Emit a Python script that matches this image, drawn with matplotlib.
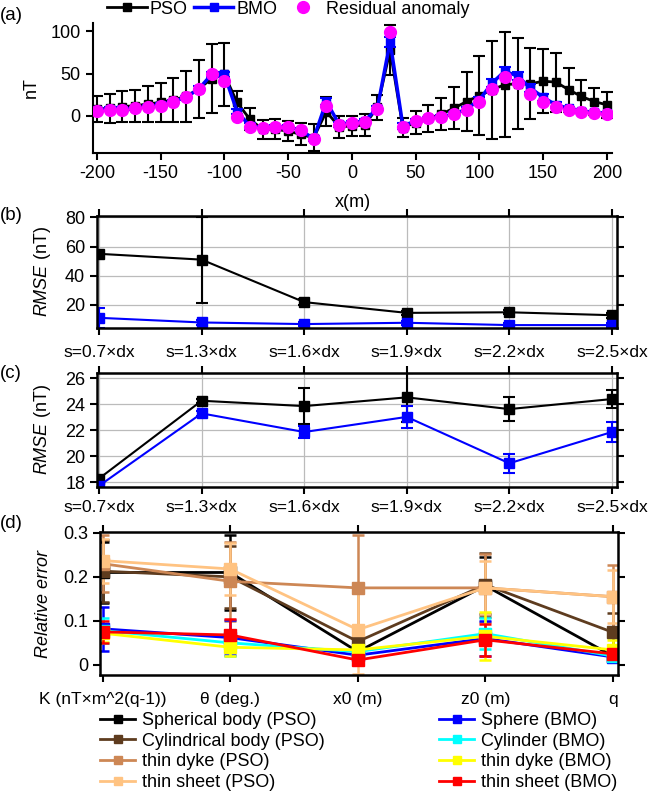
import matplotlib
matplotlib.use("Agg")
import matplotlib.pyplot as plt

plt.rcParams['font.family'] = ['Liberation Sans', 'DejaVu Sans']
plt.rcParams['font.size'] = 13
plt.rcParams['axes.unicode_minus'] = False
plt.rcParams['mathtext.fontset'] = 'custom'
plt.rcParams['mathtext.it'] = 'Liberation Sans:italic'
plt.rcParams['mathtext.rm'] = 'Liberation Sans'

# ---- panel (a): profile ----
x_m = [-200, -190, -180, -170, -160, -150, -140, -130, -120, -110, -100,
       -90, -80, -70, -60, -50, -40, -30, -20, -10, 0,
       10, 20, 30, 40, 50, 60, 70, 80, 90, 100,
       110, 120, 130, 140, 150, 160, 170, 180, 190, 200]
residual = [6, 7, 7, 9, 11, 12, 17, 22, 32, 49, 41,
            -1, -13, -14, -13, -13, -17, -28, 12, -11, -9,
            -7, 8, 99, -13, -6, -3, -1, 2, 7, 17,
            32, 46, 39, 26, 16, 10, 7, 5, 3, 2]
pso_a = [8, 9, 11, 12, 14, 16, 19, 23, 32, 44, 49,
         16, -4, -16, -16, -18, -22, -26, 5, -13, -12,
         -11, 10, 78, -14, -8, -3, 2, 9, 17, 24,
         31, 37, 38, 38, 41, 40, 31, 23, 17, 13]
pso_a_err = [15, 17, 18, 19, 21, 23, 26, 30, 34, 41, 37,
             14, 13, 11, 12, 12, 13, 16, 17, 13, 12,
             13, 15, 30, 11, 14, 16, 19, 25, 35, 47,
             58, 62, 54, 42, 38, 35, 26, 20, 16, 15]
bmo_a = [7, 8, 8, 9, 11, 13, 17, 22, 32, 49, 49,
         5, -12, -14, -13, -13, -17, -27, 17, -10, -8,
         -6, 9, 88, -12, -6, -3, -1, 2, 8, 19,
         39, 53, 47, 33, 22, 13, 9, 6, 4, 3]
bmo_a_err = [2, 2, 2, 2, 2, 2, 2, 2, 3, 3, 3,
             3, 3, 2, 2, 2, 2, 3, 4, 3, 2,
             2, 3, 6, 3, 2, 2, 2, 2, 2, 3,
             5, 5, 5, 5, 4, 3, 2, 2, 2, 2]

# ---- panels (b), (c): RMSE vs step ----
steps = ['s=0.7×dx', 's=1.3×dx', 's=1.6×dx', 's=1.9×dx', 's=2.2×dx', 's=2.5×dx']
pso_b = [55, 51, 21.8, 14.4, 14.8, 12.8]
pso_b_err = [1.5, 29.5, 2.2, 1.5, 1.5, 1.8]
bmo_b = [11, 7.8, 6.7, 7.6, 6.0, 6.0]
bmo_b_err = [6.8, 1.5, 1.2, 1.5, 1.2, 1.2]

pso_c = [18.3, 24.27, 23.86, 24.53, 23.63, 24.4]
pso_c_err = [0.15, 0.15, 1.4, 1.9, 0.9, 0.7]
bmo_c = [17.74, 23.3, 21.87, 23.03, 19.47, 21.87]
bmo_c_err = [0.1, 0.2, 0.45, 0.83, 0.75, 0.8]

# ---- panel (d): relative error of parameters ----
params = ['K (nT×m^2(q-1))', 'θ (deg.)', 'x0 (m)', 'z0 (m)', 'q']
sph_pso = [0.21, 0.21, 0.03, 0.18, 0.02]
sph_pso_err = [0.07, 0.085, 0.02, 0.065, 0.01]
cyl_pso = [0.213, 0.20, 0.053, 0.182, 0.074]
cyl_pso_err = [0.07, 0.07, 0.02, 0.073, 0.045]
dyke_pso = [0.23, 0.19, 0.175, 0.175, 0.155]
dyke_pso_err = [0.065, 0.09, 0.12, 0.078, 0.073]
sheet_pso = [0.237, 0.218, 0.08, 0.175, 0.155]
sheet_pso_err = [0.05, 0.06, 0.1, 0.06, 0.06]
sph_bmo = [0.082, 0.062, 0.022, 0.06, 0.018]
sph_bmo_err = [0.05, 0.04, 0.01, 0.04, 0.01]
cyl_bmo = [0.078, 0.05, 0.03, 0.071, 0.02]
cyl_bmo_err = [0.028, 0.03, 0.012, 0.035, 0.012]
dyke_bmo = [0.072, 0.04, 0.034, 0.065, 0.034]
dyke_bmo_err = [0.02, 0.02, 0.015, 0.055, 0.022]
sheet_bmo = [0.075, 0.068, 0.011, 0.057, 0.025]
sheet_bmo_err = [0.025, 0.037, 0.01, 0.037, 0.017]

W, H = 649, 806
fig = plt.figure(figsize=(W / 100, H / 100), dpi=100)


def box(l, t, r, b):
    return [l / W, 1 - b / H, (r - l) / W, (b - t) / H]


# (a)
ax = fig.add_axes(box(93, 23, 612, 153))
pso = ax.errorbar(x_m, pso_a, yerr=pso_a_err, color='black', lw=2, marker='s',
                  ms=6, ecolor='black', elinewidth=1.5, capsize=4, capthick=1.5, zorder=2)
bmo = ax.errorbar(x_m, bmo_a, yerr=bmo_a_err, color='#0000FF', lw=2.5, marker='s',
                  ms=6, ecolor='#0000FF', elinewidth=1.5, capsize=4, capthick=1.5, zorder=3)
res, = ax.plot(x_m, residual, 'o', color='#FF00FF', ms=8.5, ls='none', zorder=4)
ax.set_xlim(-203, 204)
ax.set_ylim(-44, 110)
ax.set_xticks([-200, -150, -100, -50, 0, 50, 100, 150, 200])
ax.set_yticks([0, 50, 100])
for s in ['top', 'right']:
    ax.spines[s].set_visible(False)
for s in ['left', 'bottom']:
    ax.spines[s].set_linewidth(1.5)
ax.tick_params(direction='out', length=5, width=1.5, pad=4)
ax.set_xlabel('x(m)', labelpad=8)
ax.set_ylabel('nT')
ax.yaxis.set_label_coords(-0.102, 0.5)
ax.legend([pso[0], bmo[0], res], ['PSO', 'BMO', 'Residual anomaly'], ncol=3,
          frameon=False, loc='center left', bbox_to_anchor=(107 / W, 1 - 9 / H),
          bbox_transform=fig.transFigure, handlelength=2.2, handletextpad=0.15,
          columnspacing=0.35, borderaxespad=0, borderpad=0)
fig.text(0, 1 - 16 / H, '(a)', va='center', ha='left', fontsize=13.5)


def framed(ax, pad):
    for s in ax.spines.values():
        s.set_linewidth(1.8)
    ax.tick_params(direction='out', length=5, width=1.5, top=True, right=True)
    ax.tick_params(axis='x', pad=pad, labelsize=12.5)


# (b)
ax = fig.add_axes(box(97, 216, 617, 328))
ax.grid(True, color='#BBBBBB', lw=0.9)
ax.set_axisbelow(True)
ax.errorbar(range(len(steps)), pso_b, yerr=pso_b_err, color='black', lw=1.5, marker='s',
            ms=7, elinewidth=1.5, capsize=4, capthick=1.5)
ax.errorbar(range(len(steps)), bmo_b, yerr=bmo_b_err, color='#0000FF', lw=1.5, marker='s',
            ms=7, elinewidth=1.5, capsize=4, capthick=1.5)
ax.set_xticks(range(len(steps)))
ax.set_xticklabels(steps)
ax.set_xlim(-0.02, 5.05)
ax.set_ylim(4, 81)
ax.set_yticks([20, 40, 60, 80])
framed(ax, 7)
ax.set_ylabel(r'$\mathit{RMSE}$ (nT)')
ax.yaxis.set_label_coords(-0.085, 0.5)
fig.text(0, 1 - 215 / H, '(b)', va='center', ha='left', fontsize=13.5)

# (c)
ax = fig.add_axes(box(97, 373, 617, 487))
ax.grid(True, color='#BBBBBB', lw=0.9)
ax.set_axisbelow(True)
ax.errorbar(range(len(steps)), pso_c, yerr=pso_c_err, color='black', lw=1.5, marker='s',
            ms=7, elinewidth=1.5, capsize=4, capthick=1.5)
ax.errorbar(range(len(steps)), bmo_c, yerr=bmo_c_err, color='#0000FF', lw=1.5, marker='s',
            ms=7, elinewidth=1.5, capsize=4, capthick=1.5)
ax.set_xticks(range(len(steps)))
ax.set_xticklabels(steps)
ax.set_xlim(-0.02, 5.05)
ax.set_ylim(17.65, 26.4)
ax.set_yticks([18, 20, 22, 24, 26])
framed(ax, 4)
ax.set_ylabel(r'$\mathit{RMSE}$ (nT)')
ax.yaxis.set_label_coords(-0.085, 0.5)
fig.text(0, 1 - 373 / H, '(c)', va='center', ha='left', fontsize=13.5)

# (d)
ax = fig.add_axes(box(100, 532, 618, 675))
series_d = [
    (sph_pso, sph_pso_err, '#000000', 'Spherical body (PSO)'),
    (cyl_pso, cyl_pso_err, '#5E3C1F', 'Cylindrical body (PSO)'),
    (dyke_pso, dyke_pso_err, '#CD8755', 'thin dyke (PSO)'),
    (sheet_pso, sheet_pso_err, '#FFC382', 'thin sheet (PSO)'),
    (sph_bmo, sph_bmo_err, '#0000FF', 'Sphere (BMO)'),
    (cyl_bmo, cyl_bmo_err, '#00FFFF', 'Cylinder (BMO)'),
    (dyke_bmo, dyke_bmo_err, '#FFFF00', 'thin dyke (BMO)'),
    (sheet_bmo, sheet_bmo_err, '#FF0000', 'thin sheet (BMO)'),
]
handles = []
labels = []
for vals, errs, col, lab in series_d:
    c = ax.errorbar(range(len(params)), vals, yerr=errs, color=col, lw=2, marker='s',
                    ms=8, elinewidth=1.8, capsize=4, capthick=1.8)
    handles.append(c[0])
    labels.append(lab)
ax.set_xticks(range(len(params)))
ax.set_xticklabels(params)
ax.set_xlim(-0.02, 4.04)
ax.set_ylim(-0.023, 0.302)
ax.set_yticks([0, 0.1, 0.2, 0.3])
ax.set_yticklabels(['0', '0.1', '0.2', '0.3'])
framed(ax, 7)
ax.set_ylabel('Relative error', fontstyle='italic')
ax.yaxis.set_label_coords(-0.093, 0.5)
fig.text(0, 1 - 523 / H, '(d)', va='center', ha='left', fontsize=13.5)
fig.legend(handles, labels, ncol=2, frameon=False, loc='upper left',
           bbox_to_anchor=(100 / W, 1 - 712 / H), handlelength=1.95, handletextpad=0.4,
           columnspacing=6.3, labelspacing=0.2, fontsize=13, borderpad=0, borderaxespad=0,
           markerscale=0.8)

fig.savefig('out.png', dpi=100)
